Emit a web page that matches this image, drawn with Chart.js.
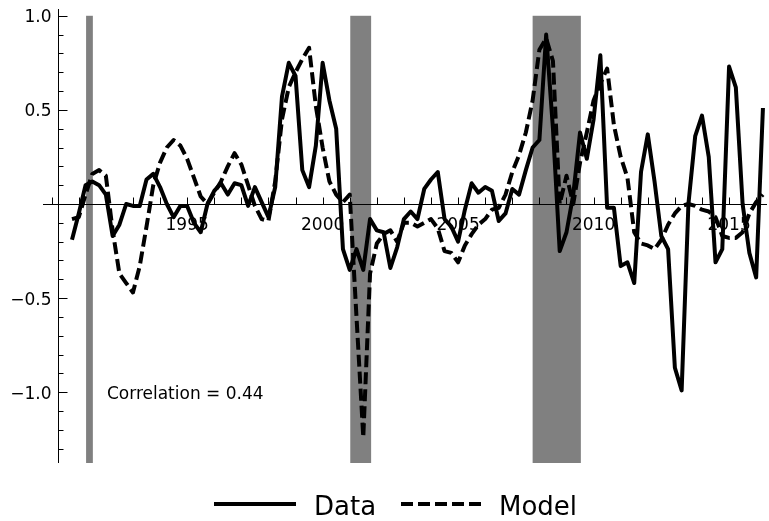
<!DOCTYPE html>
<html>
<head>
<meta charset="utf-8">
<script src="https://cdn.jsdelivr.net/npm/chart.js@4/dist/chart.umd.min.js"></script>
<style>
  html, body { margin: 0; padding: 0; background: #fff; }
  canvas { display: block; }
</style>
</head>
<body>
<canvas id="chart" width="769" height="521"></canvas>
<script>
// Séries trimestrielles, premier trimestre placé à 1990.75
const firstQuarter = 1990.75;

const dataValues = [
  -0.19, -0.05, 0.10, 0.12, 0.10, 0.05, -0.17, -0.11, 0.00, -0.01, -0.01, 0.13, 0.16, 0.09, 0.00, -0.07, -0.01, -0.01, -0.10, -0.15, 0.00,
  0.07, 0.11, 0.05, 0.11, 0.10, -0.01, 0.09, 0.01, -0.07, 0.09, 0.57, 0.75, 0.68, 0.18, 0.09, 0.31, 0.75, 0.55, 0.40, -0.24,
  -0.35, -0.24, -0.35, -0.08, -0.14, -0.15, -0.34, -0.23, -0.08, -0.04, -0.08, 0.08, 0.13, 0.17, -0.08, -0.12, -0.20, -0.03, 0.11, 0.06, 0.09,
  0.07, -0.09, -0.05, 0.08, 0.05, 0.18, 0.30, 0.34, 0.90, 0.40, -0.25, -0.15, 0.05, 0.38, 0.24, 0.45, 0.79, -0.02, -0.02, -0.33,
  -0.31, -0.42, 0.17, 0.37, 0.12, -0.17, -0.24, -0.87, -0.99, 0.00, 0.36, 0.47, 0.25, -0.31, -0.24, 0.73, 0.62, 0.00, -0.26, -0.39, 0.51
];

const modelValues = [
  -0.08, -0.07, 0.05, 0.16, 0.18, 0.15, -0.14, -0.37, -0.42, -0.47, -0.33, -0.12, 0.10, 0.22, 0.30, 0.34, 0.31, 0.24, 0.14, 0.04,
  0.00, 0.06, 0.12, 0.20, 0.27, 0.21, 0.10, -0.01, -0.08, -0.09, 0.12, 0.45, 0.62, 0.70, 0.77, 0.83, 0.52, 0.30, 0.12, 0.05,
  0.01, 0.05, -0.60, -1.24, -0.37, -0.21, -0.16, -0.14, -0.20, -0.10, -0.10, -0.12, -0.10, -0.08, -0.13, -0.25, -0.26, -0.31, -0.22, -0.16, -0.11, -0.08,
  -0.03, -0.02, 0.05, 0.17, 0.26, 0.38, 0.55, 0.82, 0.88, 0.76, 0.00, 0.15, 0.00, 0.22, 0.38, 0.55, 0.64, 0.72, 0.42, 0.25, 0.14,
  -0.15, -0.21, -0.22, -0.24, -0.19, -0.11, -0.05, -0.01, 0.00, -0.01, -0.03, -0.04, -0.07, -0.17, -0.18, -0.18, -0.15, -0.05, 0.01, 0.05
];

// Bandes grises (récessions)
const recessions = [[1991.27, 1991.52], [2001.02, 2001.79], [2007.75, 2009.53]];

const xTickYears = [1990, 1991, 1992, 1993, 1994, 1995, 1996, 1997, 1998, 1999, 2000, 2001, 2002, 2003,
  2004, 2005, 2006, 2007, 2008, 2009, 2010, 2011, 2012, 2013, 2014, 2015, 2016];
const xLabelYears = [1995, 2000, 2005, 2010, 2015];
const yMajorTicks = [-1.0, -0.5, 0.5, 1.0];
const yMajorLabels = ['\u22121.0', '\u22120.5', '0.5', '1.0'];
const yMinorTicks = [-1.3, -1.2, -1.1, -0.9, -0.8, -0.7, -0.6, -0.4, -0.3, -0.2, -0.1,
  0.1, 0.2, 0.3, 0.4, 0.6, 0.7, 0.8, 0.9];
const seriesNames = ['Data', 'Model'];
const corrText = 'Correlation = 0.44';

const FONT = "'DejaVu Sans', sans-serif";
const toPoints = vals => vals.map((v, i) => ({ x: firstQuarter + i / 4, y: v }));

// Axes au centre, bandes, annotation
const decor = {
  id: 'decor',
  beforeDatasetsDraw(chart) {
    const { ctx, chartArea: a, scales: { x, y } } = chart;
    ctx.save();

    // bandes
    ctx.fillStyle = '#808080';
    const top = y.getPixelForValue(1.0);
    recessions.forEach(([s, e]) => {
      const x0 = x.getPixelForValue(s), x1 = x.getPixelForValue(e);
      ctx.fillRect(x0, top, x1 - x0, a.bottom - top);
    });

    ctx.strokeStyle = '#000';
    ctx.lineWidth = 1;

    // axe x sur y = 0
    const y0 = Math.round(y.getPixelForValue(0)) + 0.5;
    ctx.beginPath();
    ctx.moveTo(a.left, y0);
    ctx.lineTo(a.right, y0);
    xTickYears.forEach(t => {
      const px = Math.round(x.getPixelForValue(t)) + 0.5;
      ctx.moveTo(px, y0);
      ctx.lineTo(px, y0 - 7);
    });
    ctx.stroke();

    // axe y placé à 1990.25
    const xs = Math.round(x.getPixelForValue(1990.25)) + 0.5;
    ctx.beginPath();
    ctx.moveTo(xs, a.top);
    ctx.lineTo(xs, a.bottom);
    yMajorTicks.forEach(v => {
      const py = Math.round(y.getPixelForValue(v)) + 0.5;
      ctx.moveTo(xs, py);
      ctx.lineTo(xs + 9, py);
    });
    yMinorTicks.forEach(v => {
      const py = Math.round(y.getPixelForValue(v)) + 0.5;
      ctx.moveTo(xs, py);
      ctx.lineTo(xs + 5, py);
    });
    ctx.stroke();

    ctx.fillStyle = '#000';
    ctx.font = '17px ' + FONT;
    ctx.textBaseline = 'alphabetic';

    ctx.textAlign = 'right';
    yMajorTicks.forEach((v, i) => {
      ctx.fillText(yMajorLabels[i], xs - 7, y.getPixelForValue(v) + 6.5);
    });

    ctx.textAlign = 'center';
    xLabelYears.forEach(t => {
      ctx.fillText(String(t), x.getPixelForValue(t), y0 + 25);
    });

    ctx.textAlign = 'left';
    ctx.fillText(corrText, x.getPixelForValue(1992.04), y.getPixelForValue(-1.0) + 6.5);

    ctx.restore();
  },
  afterDraw(chart) {
    // légende en bas
    const ctx = chart.ctx;
    ctx.save();
    ctx.strokeStyle = '#000';
    ctx.lineWidth = 4;
    ctx.beginPath();
    ctx.moveTo(214, 504);
    ctx.lineTo(296, 504);
    ctx.stroke();
    ctx.setLineDash([12, 5]);
    ctx.beginPath();
    ctx.moveTo(401, 504);
    ctx.lineTo(481, 504);
    ctx.stroke();
    ctx.setLineDash([]);
    ctx.fillStyle = '#000';
    ctx.font = '26px ' + FONT;
    ctx.textAlign = 'left';
    ctx.textBaseline = 'alphabetic';
    ctx.fillText(seriesNames[0], 314, 515);
    ctx.fillText(seriesNames[1], 499, 515);
    ctx.restore();
  }
};

new Chart(document.getElementById('chart'), {
  type: 'line',
  data: {
    datasets: [
      {
        label: seriesNames[0],
        data: toPoints(dataValues),
        borderColor: '#000',
        borderWidth: 4,
        borderJoinStyle: 'round',
        pointRadius: 0,
        tension: 0,
        order: 1
      },
      {
        label: seriesNames[1],
        data: toPoints(modelValues),
        borderColor: '#000',
        borderWidth: 4,
        borderDash: [12, 5],
        borderJoinStyle: 'round',
        pointRadius: 0,
        tension: 0,
        order: 0
      }
    ]
  },
  options: {
    responsive: false,
    devicePixelRatio: 1,
    animation: false,
    layout: { padding: { left: 43, right: 2, top: 9, bottom: 58 } },
    plugins: { legend: { display: false }, tooltip: { enabled: false } },
    scales: {
      x: { type: 'linear', min: 1989.68, max: 2016.4, display: false },
      y: { type: 'linear', min: -1.376, max: 1.036, display: false }
    }
  },
  plugins: [decor]
});
</script>
</body>
</html>
